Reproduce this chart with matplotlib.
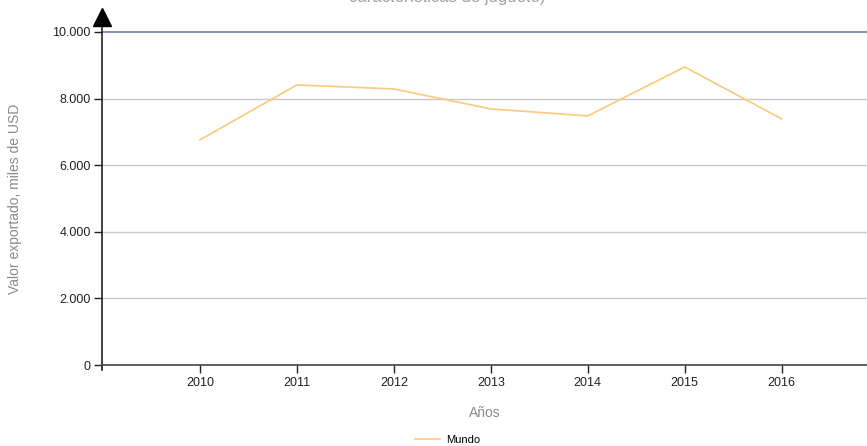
import matplotlib
matplotlib.use("Agg")
import matplotlib.pyplot as plt
from matplotlib.ticker import FuncFormatter

plt.rcParams['font.family'] = ['Liberation Sans', 'DejaVu Sans']

years = [2010, 2011, 2012, 2013, 2014, 2015, 2016]
mundo = [6760, 8410, 8290, 7690, 7480, 8950, 7390]
y_ticks = [0, 2000, 4000, 6000, 8000, 10000]
series_name = "Mundo"
title = "características de juguete)"

W, H = 867, 446
fig = plt.figure(figsize=(W / 100, H / 100), dpi=100)
ax = fig.add_axes([102 / W, (H - 365) / H, (W - 102) / W, (365 - 32) / H])

ax.plot(years, mundo, color='#fcc97a', lw=1.2, label=series_name)
ax.set_xlim(2008.99, 2016.88)
ax.set_ylim(0, 10000)
ax.set_xticks(years)
ax.set_yticks(y_ticks)
ax.yaxis.set_major_formatter(FuncFormatter(lambda v, p: f"{int(v):,}".replace(",", ".")))

for v in y_ticks[1:-1]:
    ax.axhline(v, color='#c8c8c8', lw=1, zorder=0)
ax.axhline(10000, color='#7587a6', lw=1.3, zorder=1, clip_on=False)

for s in ['top', 'right', 'left']:
    ax.spines[s].set_visible(False)
ax.spines['bottom'].set_color('#444444')
ax.spines['bottom'].set_linewidth(1.2)
# left axis line with arrow
ax.plot([0, 0], [-0.015, 1.03], transform=ax.transAxes, color='#222222', lw=1.2, clip_on=False)
ax.plot([0], [1.045], transform=ax.transAxes, marker='^', markersize=13, color='black', clip_on=False)

ax.tick_params(axis='both', labelsize=9, colors='#222222', length=6, width=1)
ax.tick_params(axis='y', pad=2)
ax.tick_params(axis='x', pad=3)

ax.set_xlabel("Años", color='#8a8a8a', fontsize=10, labelpad=12)
ax.set_ylabel("Valor exportado, miles de USD", color='#8a8a8a', fontsize=10, labelpad=22)

leg = fig.legend(loc='center', bbox_to_anchor=(448 / W, 1 - 440 / H), frameon=False,
                 fontsize=8, handlelength=2.2, handletextpad=0.6)

fig.text(447 / W, 1.0 + 3 / H, title, ha='center', va='center', color='#a0a0a0', fontsize=12)

fig.savefig("out.png", dpi=100)
